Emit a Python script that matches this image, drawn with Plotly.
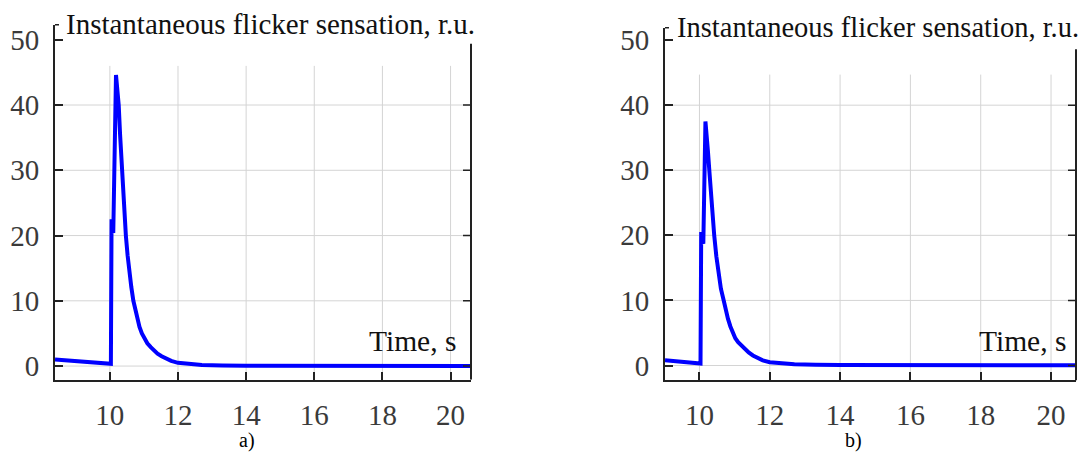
import plotly.graph_objects as go

# ---- data ----
time_a = [8.39, 10.03, 10.05, 10.10, 10.18, 10.22, 10.26, 10.30, 10.35, 10.41, 10.47,
          10.52, 10.57, 10.63, 10.69, 10.75, 10.80, 10.87, 10.94, 11.02, 11.10, 11.20,
          11.29, 11.40, 11.52, 11.63, 11.80, 12.00, 12.30, 12.70, 13.30, 14.00, 20.60]
flicker_a = [1.0, 0.35, 22.5, 20.4, 44.6, 42.5, 40.0, 35.5, 30.0, 24.5, 20.0,
             17.0, 14.5, 12.1, 10.0, 8.5, 7.3, 6.0, 5.0, 4.2, 3.5, 2.9,
             2.4, 1.9, 1.5, 1.2, 0.8, 0.5, 0.3, 0.18, 0.1, 0.07, 0.03]

time_b = [9.02, 10.03, 10.05, 10.11, 10.17, 10.20, 10.24, 10.28, 10.34, 10.42, 10.48,
          10.54, 10.61, 10.69, 10.75, 10.81, 10.88, 10.95, 11.02, 11.10, 11.20, 11.30,
          11.40, 11.52, 11.64, 11.80, 12.00, 12.30, 12.70, 13.30, 14.00, 20.71]
flicker_b = [0.8, 0.3, 20.5, 18.7, 37.5, 36.0, 33.0, 30.0, 25.0, 20.0, 16.8,
             14.0, 11.8, 10.0, 8.4, 7.2, 6.0, 5.0, 4.2, 3.6, 3.0, 2.5,
             2.0, 1.55, 1.2, 0.8, 0.5, 0.3, 0.18, 0.1, 0.07, 0.03]

x_ticks = [10, 12, 14, 16, 18, 20]
y_ticks = [0, 10, 20, 30, 40, 50]
y_grid = [0, 10, 20, 30, 40]
title_text = "Instantaneous flicker sensation, r.u."
xlabel_text = "Time, s"
panel_labels = ["a)", "b)"]

W, H = 1090, 452
FONT = "Liberation Serif, Times New Roman, serif"
BLUE = "#0000FF"
GRID = "#d4d4d4"
AX = "#222222"

fig = go.Figure()
fig.add_trace(go.Scatter(x=time_a, y=flicker_a, mode="lines", xaxis="x", yaxis="y",
                         line=dict(color=BLUE, width=4, shape="linear"), showlegend=False))
fig.add_trace(go.Scatter(x=time_b, y=flicker_b, mode="lines", xaxis="x2", yaxis="y2",
                         line=dict(color=BLUE, width=4, shape="linear"), showlegend=False))

panels = [
    dict(xa="x", ya="y", l=55, r=471, t=22, b=381, xr=[8.39, 20.6], yr=[-2.1, 52.3],
         btop=49.4, vtop=46.0),
    dict(xa="x2", ya="y2", l=665, r=1076, t=25, b=381.7, xr=[9.02, 20.71], yr=[-2.3, 51.9],
         btop=48.6, vtop=44.7),
]

shapes = []
for i, p in enumerate(panels):
    axis_common = dict(showgrid=False, zeroline=False, showline=True, linecolor=AX,
                       linewidth=2, ticks="inside", ticklen=8, tickwidth=1.5, tickcolor=AX,
                       tickfont=dict(family=FONT, size=29, color="#3a3a3a"), mirror=False)
    xname = "xaxis" if i == 0 else "xaxis2"
    yname = "yaxis" if i == 0 else "yaxis2"
    fig.layout[xname] = dict(domain=[p["l"] / W, p["r"] / W], range=p["xr"],
                             anchor=p["ya"], tickvals=x_ticks, ticklabelstandoff=8,
                             **axis_common)
    fig.layout[yname] = dict(domain=[(H - p["b"]) / H, (H - p["t"]) / H], range=p["yr"],
                             anchor=p["xa"], tickvals=y_ticks, ticklabelstandoff=8,
                             **axis_common)
    for g in y_grid:
        shapes.append(dict(type="line", xref=f"{p['xa']} domain", yref=p["ya"],
                           x0=0, x1=1, y0=g, y1=g, layer="below",
                           line=dict(color=GRID, width=1)))
    for g in x_ticks:
        shapes.append(dict(type="line", xref=p["xa"], yref=p["ya"],
                           x0=g, x1=g, y0=p["yr"][0], y1=p["vtop"], layer="below",
                           line=dict(color=GRID, width=1)))
    shapes.append(dict(type="line", xref=f"{p['xa']} domain", yref=p["ya"],
                       x0=1, x1=1, y0=p["yr"][0], y1=p["btop"],
                       line=dict(color=AX, width=2)))
    for g in y_grid:
        shapes.append(dict(type="line", xref=f"{p['xa']} domain", yref=p["ya"],
                           xsizemode="pixel", xanchor=1, x0=-8, x1=0, y0=g, y1=g,
                           line=dict(color=AX, width=1.5)))
    shapes.append(dict(type="line", xref=f"{p['xa']} domain", yref=f"{p['ya']} domain",
                       xsizemode="pixel", xanchor=0, x0=0, x1=4, y0=1, y1=1,
                       line=dict(color=AX, width=1.5)))

annotations = [
    dict(text=title_text, xref="paper", yref="paper", x=64 / W, y=1 - 21 / H,
         xanchor="left", yanchor="middle", showarrow=False,
         font=dict(family=FONT, size=29, color="#111111")),
    dict(text=title_text, xref="paper", yref="paper", x=675 / W, y=1 - 25 / H,
         xanchor="left", yanchor="middle", showarrow=False,
         font=dict(family=FONT, size=28.5, color="#111111")),
    dict(text=xlabel_text, xref="paper", yref="paper", x=367 / W, y=1 - 342 / H,
         xanchor="left", yanchor="middle", showarrow=False,
         font=dict(family=FONT, size=29.5, color="#111111")),
    dict(text=xlabel_text, xref="paper", yref="paper", x=977 / W, y=1 - 342 / H,
         xanchor="left", yanchor="middle", showarrow=False,
         font=dict(family=FONT, size=29.5, color="#111111")),
    dict(text=panel_labels[0], xref="paper", yref="paper", x=247 / W, y=1 - 442 / H,
         xanchor="center", yanchor="middle", showarrow=False,
         font=dict(family=FONT, size=20, color="#000000")),
    dict(text=panel_labels[1], xref="paper", yref="paper", x=853 / W, y=1 - 442 / H,
         xanchor="center", yanchor="middle", showarrow=False,
         font=dict(family=FONT, size=20, color="#000000")),
]

fig.update_layout(width=W, height=H, margin=dict(l=0, r=0, t=0, b=0),
                  paper_bgcolor="white", plot_bgcolor="white",
                  shapes=shapes, annotations=annotations, showlegend=False)

fig.write_html("out.html")
